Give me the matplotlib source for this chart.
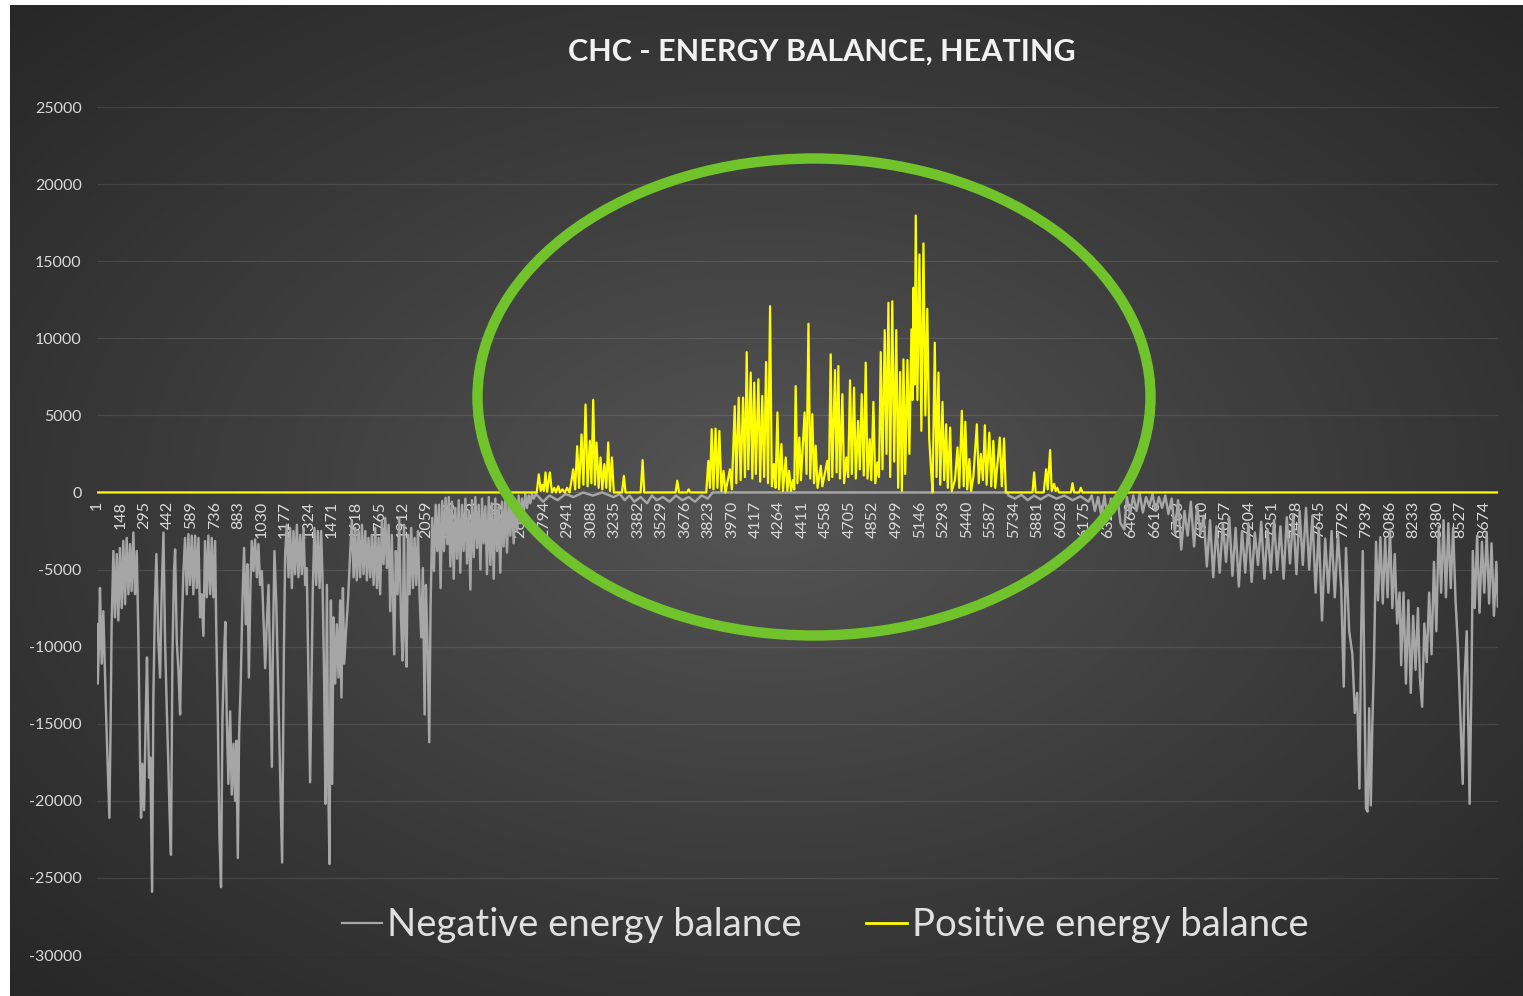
import numpy as np
import matplotlib
matplotlib.use("Agg")
import matplotlib.pyplot as plt
from matplotlib.patches import Ellipse
from matplotlib.lines import Line2D

# ---------------- data (hour index, value) ----------------
title = "CHC - ENERGY BALANCE, HEATING"
series_names = ["Negative energy balance", "Positive energy balance"]

x_tick_labels = [1, 148, 295, 442, 589, 736, 883, 1030, 1177, 1324, 1471, 1618, 1765, 1912,
                 2059, 2206, 2353, 2500, 2647, 2794, 2941, 3088, 3235, 3382, 3529, 3676, 3823,
                 3970, 4117, 4264, 4411, 4558, 4705, 4852, 4999, 5146, 5293, 5440, 5587, 5734,
                 5881, 6028, 6175, 6322, 6469, 6616, 6763, 6910, 7057, 7204, 7351, 7498, 7645,
                 7792, 7939, 8086, 8233, 8380, 8527, 8674]
y_ticks = [-30000, -25000, -20000, -15000, -10000, -5000, 0, 5000, 10000, 15000, 20000, 25000]
n_hours = 8760

negative_points = [
    (1, -8550), (5, -12400), (13, -9850), (19, -6200), (30, -11100), (40, -7700), (55, -13500),
    (63, -16300), (78, -21100), (86, -14600), (92, -8550), (103, -3800), (113, -8100), (124, -4000),
    (134, -8300), (144, -3600), (155, -7500), (165, -3150), (176, -7250), (186, -2950), (197, -6600),
    (207, -3350), (217, -6400), (228, -2600), (238, -6600), (249, -3800), (259, -9200), (270, -17800),
    (276, -21100), (284, -17600), (295, -20600), (305, -14600), (313, -10700), (326, -18500),
    (334, -17200), (345, -25900), (353, -13300), (363, -7000), (372, -4000), (384, -9600),
    (395, -12000), (405, -6400), (416, -2600), (426, -9600), (436, -13700), (447, -17800),
    (455, -21100), (463, -23500), (472, -10700), (482, -5100), (489, -3700), (499, -9600),
    (510, -11600), (520, -14400), (530, -9000), (541, -5100), (551, -2950), (562, -6600),
    (572, -2700), (582, -6000), (593, -2800), (603, -6600), (614, -2800), (624, -6200), (635, -2950),
    (645, -8100), (655, -6600), (666, -9300), (676, -3150), (687, -6800), (697, -2800), (708, -6600),
    (718, -2950), (728, -6800), (739, -3150), (745, -8100), (756, -14600), (766, -22200),
    (776, -25600), (785, -14600), (795, -10700), (803, -8400), (812, -14600), (822, -18900),
    (833, -14200), (843, -19600), (854, -16300), (864, -20000), (872, -16100), (881, -23700),
    (889, -15700), (899, -12400), (910, -7000), (920, -3600), (931, -8550), (941, -4650),
    (950, -12000), (960, -6000), (968, -3150), (979, -5100), (989, -3050), (1000, -5500),
    (1010, -3350), (1020, -6000), (1031, -5100), (1041, -8100), (1052, -11400), (1062, -8550),
    (1073, -6000), (1083, -11400), (1094, -17800), (1100, -10300), (1110, -3800), (1121, -7000),
    (1135, -13500), (1146, -18900), (1158, -24000), (1169, -10300), (1177, -4000), (1187, -2100),
    (1198, -5500), (1208, -2300), (1219, -6200), (1229, -2500), (1239, -5300), (1250, -2100),
    (1260, -5500), (1271, -2750), (1281, -5300), (1292, -2300), (1302, -6000), (1312, -4900),
    (1323, -12400), (1333, -18800), (1342, -12000), (1350, -6200), (1360, -2300), (1371, -6000),
    (1381, -2500), (1392, -6200), (1402, -2500), (1410, -5300), (1421, -12400), (1429, -20200),
    (1438, -6000), (1446, -18500), (1454, -24100), (1463, -7000), (1471, -18900), (1479, -8100),
    (1490, -12400), (1500, -8550), (1511, -12000), (1521, -7000), (1529, -13300), (1538, -6200),
    (1546, -11100), (1559, -8750), (1571, -6800), (1584, -3800), (1594, -1800), (1605, -5500),
    (1615, -2300), (1625, -5700), (1636, -2500), (1646, -5500), (1657, -2100), (1667, -5300),
    (1678, -2500), (1688, -5700), (1698, -2950), (1709, -5500), (1719, -2750), (1730, -6000),
    (1740, -2300), (1751, -6200), (1761, -2950), (1771, -6600), (1782, -1800), (1792, -4650),
    (1803, -1650), (1813, -4900), (1824, -2100), (1834, -7700), (1844, -2750), (1859, -10500),
    (1869, -3800), (1880, -6600), (1890, -1650), (1901, -8100), (1911, -10900), (1920, -2100),
    (1928, -9200), (1936, -11300), (1945, -2750), (1955, -6600), (1965, -2300), (1976, -6200),
    (1986, -2950), (1997, -6000), (2007, -2500), (2018, -6800), (2028, -9400), (2038, -4900),
    (2049, -14400), (2057, -6000), (2068, -10300), (2078, -16200), (2086, -7500), (2097, -1650),
    (2107, -5100), (2118, -800), (2128, -3800), (2139, -800), (2149, -6200), (2159, -550),
    (2170, -3800), (2180, -350), (2191, -3350), (2200, -300), (2210, -4800), (2220, -600),
    (2231, -5600), (2241, -1000), (2252, -4300), (2262, -500), (2272, -5200), (2283, -800),
    (2293, -3800), (2304, -400), (2314, -4600), (2325, -1200), (2335, -6300), (2345, -500),
    (2356, -4200), (2366, -300), (2377, -3600), (2387, -800), (2398, -5000), (2408, -400),
    (2418, -3300), (2429, -900), (2439, -5300), (2450, -300), (2460, -4700), (2470, -700),
    (2481, -5600), (2491, -400), (2502, -3800), (2512, -900), (2522, -5200), (2533, -600),
    (2543, -3500), (2554, -300), (2564, -3900), (2575, -500), (2585, -2800), (2596, -300),
    (2606, -3300), (2616, -700), (2627, -2500), (2637, -200), (2648, -2000), (2658, -400),
    (2668, -1400), (2679, -100), (2689, -1000), (2700, -200), (2710, -700), (2720, -100),
    (2731, -400), (2745, -100), (2790, -600), (2830, -200), (2880, -500), (2930, -100),
    (2980, -300), (3040, 0), (3100, -200), (3160, 0), (3230, -300), (3270, -100), (3300, -500),
    (3330, -200), (3360, -600), (3400, -300), (3440, -700), (3470, -200), (3500, -500),
    (3540, -300), (3580, -600), (3620, -200), (3660, -500), (3700, -300), (3740, -600),
    (3780, -200), (3820, -400), (3850, 0), (5690, 0), (5700, -200), (5740, -400), (5780, -150),
    (5820, -500), (5860, -200), (5900, -450), (5950, -150), (6000, -400), (6050, -200),
    (6100, -500), (6150, -250), (6200, -600), (6220, -200), (6240, -1200), (6260, -300),
    (6280, -1500), (6300, -200), (6320, -1800), (6340, -400), (6360, -1300), (6380, -200),
    (6400, -2000), (6424, -2400), (6440, -300), (6460, -1400), (6480, -200), (6500, -1200),
    (6520, -100), (6540, -1300), (6560, -300), (6580, -900), (6600, -100), (6620, -1200),
    (6640, -300), (6660, -1000), (6680, -200), (6700, -1400), (6720, -400), (6740, -2600),
    (6760, -500), (6780, -3700), (6800, -1200), (6820, -2800), (6840, -600), (6860, -3500),
    (6880, -900), (6900, -2700), (6920, -1500), (6940, -4800), (6960, -1800), (6980, -5500),
    (7000, -2200), (7020, -5200), (7040, -2000), (7060, -4500), (7080, -1600), (7100, -5400),
    (7120, -2300), (7140, -6100), (7160, -2500), (7180, -5200), (7200, -2000), (7220, -5800),
    (7240, -2600), (7260, -4700), (7280, -1900), (7300, -5600), (7320, -2400), (7340, -5200),
    (7360, -1800), (7380, -5000), (7400, -2200), (7420, -5600), (7440, -1600), (7460, -4600),
    (7480, -1400), (7500, -5300), (7520, -1200), (7540, -4700), (7560, -1000), (7580, -5000),
    (7600, -1500), (7620, -6500), (7640, -2300), (7660, -8300), (7680, -3000), (7700, -6500),
    (7720, -2500), (7740, -6800), (7760, -2700), (7780, -6200), (7796, -12600), (7810, -3600),
    (7830, -9000), (7850, -10500), (7865, -14300), (7880, -13000), (7894, -19200), (7905, -9000),
    (7915, -3800), (7925, -12000), (7935, -20500), (7945, -20700), (7955, -14000), (7965, -20300),
    (7975, -15000), (7985, -11000), (7998, -3200), (8010, -7000), (8025, -2900), (8040, -7200),
    (8055, -3000), (8070, -6800), (8085, -2400), (8100, -7500), (8115, -4000), (8130, -8500),
    (8145, -6500), (8155, -11200), (8170, -6500), (8185, -12400), (8200, -7000), (8215, -13000),
    (8230, -8000), (8245, -11500), (8260, -7500), (8272, -12000), (8286, -13900), (8300, -8500),
    (8315, -11000), (8330, -6500), (8345, -10500), (8360, -4500), (8375, -9000), (8390, -2200),
    (8405, -6500), (8420, -1800), (8435, -6800), (8450, -2000), (8465, -6200), (8480, -2300),
    (8495, -7000), (8510, -10000), (8525, -14500), (8540, -18900), (8552, -12000), (8565, -9000),
    (8583, -20200), (8595, -12000), (8603, -3800), (8615, -7500), (8630, -2800), (8645, -7800),
    (8660, -3200), (8675, -6500), (8690, -2600), (8705, -7200), (8720, -3300), (8735, -8000),
    (8750, -4500), (8760, -7400),
]

positive_points = [
    (1, 0), (2750, 0), (2763, 1170), (2775, 100), (2785, 500), (2795, 100), (2805, 1300),
    (2815, 50), (2832, 1300), (2845, 0), (2860, 300), (2870, 0), (2885, 400), (2895, 0),
    (2910, 200), (2925, 0), (2940, 300), (2955, 0), (2968, 800), (2978, 1500), (2990, 200),
    (3003, 3000), (3015, 300), (3030, 3760), (3042, 500), (3055, 5700), (3068, 400), (3082, 3350),
    (3092, 600), (3103, 6000), (3114, 500), (3124, 3240), (3137, 300), (3149, 2270), (3160, 200),
    (3173, 1840), (3185, 300), (3197, 3240), (3208, 100), (3220, 2270), (3232, 0), (3283, 0),
    (3295, 1080), (3305, 0), (3400, 0), (3412, 2100), (3422, 0), (3618, 0), (3629, 760),
    (3640, 0), (3690, 0), (3700, 200), (3710, 0), (3810, 0), (3823, 2050), (3833, 300),
    (3844, 4100), (3855, 200), (3868, 4140), (3880, 300), (3892, 3990), (3905, 100), (3918, 1400),
    (3930, 0), (3958, 1500), (3970, 200), (3988, 5600), (3998, 600), (4013, 6150), (4025, 800),
    (4040, 6150), (4052, 1000), (4063, 9100), (4073, 1500), (4088, 7770), (4098, 900),
    (4110, 7120), (4120, 1200), (4136, 7340), (4147, 700), (4160, 6260), (4172, 1000),
    (4184, 8460), (4196, 600), (4209, 12080), (4220, 400), (4233, 1840), (4243, 300), (4255, 5190),
    (4265, 200), (4280, 3140), (4290, 100), (4307, 2270), (4317, 100), (4328, 1400), (4340, 100),
    (4352, 800), (4360, 200), (4369, 6900), (4380, 600), (4392, 3560), (4402, 800), (4425, 5190),
    (4437, 1200), (4449, 10940), (4460, 900), (4473, 5080), (4484, 600), (4494, 3030), (4506, 300),
    (4526, 1730), (4536, 400), (4567, 2050), (4577, 800), (4588, 8960), (4598, 1000), (4615, 7940),
    (4625, 1300), (4636, 8200), (4646, 900), (4661, 6370), (4672, 600), (4686, 2270), (4697, 1000),
    (4709, 7270), (4720, 1200), (4734, 6800), (4745, 900), (4759, 4640), (4770, 1500),
    (4782, 6370), (4795, 1100), (4807, 8420), (4818, 900), (4832, 3450), (4842, 800), (4855, 5870),
    (4867, 600), (4880, 1950), (4890, 1000), (4901, 9100), (4912, 1500), (4926, 10530),
    (4937, 2500), (4949, 12300), (4960, 1000), (4973, 12400), (4985, 2000), (4998, 10530),
    (5010, 300), (5022, 7810), (5033, 100), (5043, 8630), (5054, 1200), (5068, 8590), (5080, 2500),
    (5093, 10580), (5100, 6000), (5106, 13280), (5113, 7000), (5120, 17960), (5130, 6000),
    (5143, 15430), (5155, 4000), (5168, 16150), (5180, 5000), (5192, 11910), (5204, 3500),
    (5214, 1730), (5225, 0), (5239, 9710), (5250, 1000), (5262, 7770), (5273, 500), (5287, 5870),
    (5298, 800), (5310, 4420), (5320, 300), (5335, 4210), (5345, 100), (5365, 800), (5381, 2920),
    (5392, 300), (5408, 5300), (5420, 400), (5430, 4580), (5442, 200), (5455, 2160), (5466, 100),
    (5480, 1000), (5502, 4420), (5514, 600), (5527, 2500), (5540, 800), (5552, 4360), (5563, 500),
    (5580, 3880), (5592, 400), (5605, 3350), (5617, 300), (5632, 2000), (5645, 3560), (5658, 400),
    (5672, 3500), (5683, 0), (5850, 0), (5860, 1300), (5870, 0), (5920, 0), (5935, 1500),
    (5945, 200), (5960, 2750), (5970, 100), (5985, 560), (5995, 100), (6005, 300), (6015, 0),
    (6090, 0), (6100, 600), (6110, 0), (6142, 0), (6152, 300), (6162, 0), (8760, 0),
]

# ---------------- figure ----------------
W, H = 1523, 996
fig = plt.figure(figsize=(W / 100, H / 100), dpi=100, facecolor="white")
FONT = ["Lato", "DejaVu Sans"]

# radial gradient background panel
bg = fig.add_axes([10 / W, 0, (W - 10) / W, (H - 5) / H])
gx, gy = np.meshgrid(np.linspace(-1, 1, 600), np.linspace(-1, 1, 400))
r = np.clip(np.sqrt(gx ** 2 + gy ** 2) / np.sqrt(2), 0, 1)
c_in, c_out = 0x56 / 255, 0x27 / 255
img = c_in + (c_out - c_in) * r ** 0.9
bg.imshow(np.dstack([img, img, img]), aspect="auto", extent=[0, 1, 0, 1])
bg.set_axis_off()

# plot area
left, right = 97 / W, 1498 / W
bottom, top = 1 - 955 / H, 1 - 107 / H
ax = fig.add_axes([left, bottom, right - left, top - bottom])
ax.set_facecolor("none")
ax.spines["bottom"].set_position(("data", 0))
for s in ax.spines.values():
    s.set_visible(False)

nh, nv = zip(*negative_points)
ph, pv = zip(*positive_points)
ax.plot(nh, nv, color="#a6a6a6", lw=1.75, zorder=3)
ax.plot(ph, pv, color="#ffff00", lw=1.6, zorder=4)

ax.set_xlim(0.5, n_hours + 0.5)
ax.set_ylim(-30000, 25000)
ax.set_yticks(y_ticks)
ax.set_yticklabels([str(v) for v in y_ticks], fontsize=11.5, color="#d9d9d9", family=FONT)
ax.grid(axis="y", color="#ffffff", alpha=0.1, lw=0.9)
ax.set_axisbelow(True)
ax.set_xticks(x_tick_labels)
ax.set_xticklabels([str(v) for v in x_tick_labels], fontsize=11.5,
                   color="#d9d9d9", family=FONT)
ax.tick_params(axis="both", length=0)
ax.tick_params(axis="x", pad=6, labelrotation=90)
ax.tick_params(axis="y", pad=11)
for lab in ax.get_xticklabels():
    lab.set_verticalalignment("top")
    lab.set_horizontalalignment("center")

# title
fig.text(822 / W, 1 - 52 / H, title, ha="center", va="center", fontsize=22,
         fontweight="bold", color="#f2f2f2", family=FONT)

# highlight ellipse
ell = Ellipse((814 / W, 1 - 397 / H), 673 / W, 477 / H, transform=fig.transFigure,
              fill=False, edgecolor="#70c32b", lw=7.5, zorder=10)
fig.patches.append(ell)

# legend
handles = [Line2D([], [], color="#a6a6a6", lw=1.6), Line2D([], [], color="#ffff00", lw=2)]
leg = fig.legend(handles, series_names, loc="center", bbox_to_anchor=(825 / W, 1 - 925 / H),
                 ncol=2, frameon=False, handlelength=1.05, handletextpad=0.13,
                 columnspacing=1.7, prop={"family": FONT, "size": 27.5})
for t in leg.get_texts():
    t.set_color("#e0e0e0")

fig.savefig("out.png", dpi=100, facecolor="white")
